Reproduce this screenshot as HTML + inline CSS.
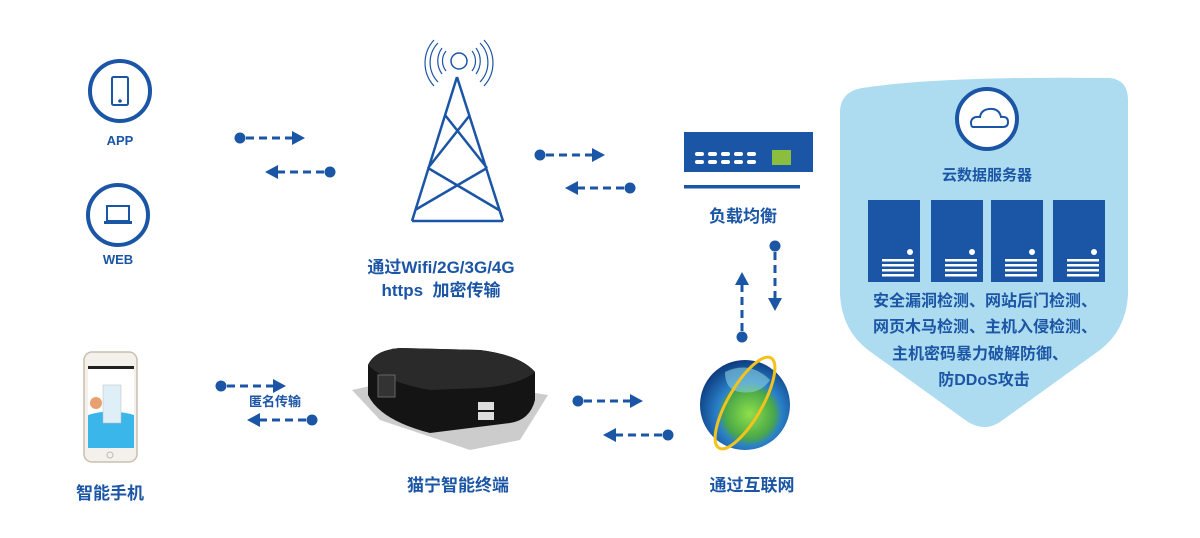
<!DOCTYPE html>
<html><head><meta charset="utf-8"><style>
html,body{margin:0;padding:0;background:#fff;}
svg{display:block}
text{font-family:"Liberation Sans","Noto Sans CJK SC",sans-serif;font-weight:bold;fill:#1b55a5;text-anchor:middle}
</style></head><body>
<svg width="1200" height="538" viewBox="0 0 1200 538" xmlns="http://www.w3.org/2000/svg">
<defs>
<g id="ar"><circle cx="0" cy="0" r="5.5" fill="#1b55a5"/><line x1="6" y1="0" x2="52" y2="0" stroke="#1b55a5" stroke-width="3" stroke-dasharray="8,5"/><polygon points="52,-7 65,0 52,7" fill="#1b55a5"/></g>
<radialGradient id="gl" cx="0.55" cy="0.6" r="0.6"><stop offset="0" stop-color="#8fe04a"/><stop offset="0.45" stop-color="#4aa848"/><stop offset="0.6" stop-color="#2a80c8"/><stop offset="1" stop-color="#0d3d80"/></radialGradient>
</defs>
<!-- APP / WEB -->
<circle cx="120" cy="91" r="30" fill="none" stroke="#1b55a5" stroke-width="4"/>
<rect x="112" y="77" width="16" height="28" rx="1.5" fill="none" stroke="#1b55a5" stroke-width="2"/>
<circle cx="120" cy="101" r="1.8" fill="#1b55a5"/>
<text x="120" y="145" font-size="13">APP</text>
<circle cx="118" cy="215" r="30" fill="none" stroke="#1b55a5" stroke-width="4"/>
<rect x="107" y="206" width="22" height="15" fill="none" stroke="#1b55a5" stroke-width="2"/>
<rect x="104" y="221" width="28" height="3" fill="#1b55a5"/>
<text x="118" y="264" font-size="13">WEB</text>
<use href="#ar" transform="translate(240,138)"/>
<use href="#ar" transform="translate(330,172) scale(-1,1)"/>
<!-- tower -->
<g fill="none" stroke="#1b55a5" stroke-width="2.5">
<circle cx="459" cy="61" r="8" stroke-width="1.5"/>
<path d="M457 77 L412 221 M457 77 L503 221 M412 221 L503 221 M445 115 L487 168 M470 115 L428 168 M428 168 L499 210 M487 168 L415 210" />
</g>
<g fill="none" stroke="#1b55a5" stroke-width="1.2">
<path d="M442 48 A22 22 0 0 0 442 74 M446 51 A16 16 0 0 0 446 71 M438 43 A28 28 0 0 0 438 82 M434 40 A34 34 0 0 0 434 86"/>
<path d="M476 48 A22 22 0 0 1 476 74 M472 51 A16 16 0 0 1 472 71 M480 43 A28 28 0 0 1 480 82 M484 40 A34 34 0 0 1 484 86"/>
</g>
<text x="441" y="273" font-size="17">通过Wifi/2G/3G/4G</text>
<text x="441" y="296" font-size="17">https&#160;&#160;加密传输</text>
<use href="#ar" transform="translate(540,155)"/>
<use href="#ar" transform="translate(630,188) scale(-1,1)"/>
<!-- load balancer -->
<rect x="684" y="132" width="129" height="40" fill="#1b55a5"/>
<rect x="684" y="185" width="116" height="3.5" fill="#1b55a5"/>
<rect x="772" y="150" width="19" height="15" fill="#8bbd3f"/>
<g fill="#fff">
<rect x="695" y="152" width="9" height="4" rx="2"/><rect x="708" y="152" width="9" height="4" rx="2"/><rect x="721" y="152" width="9" height="4" rx="2"/><rect x="734" y="152" width="9" height="4" rx="2"/><rect x="747" y="152" width="9" height="4" rx="2"/>
<rect x="695" y="160" width="9" height="4" rx="2"/><rect x="708" y="160" width="9" height="4" rx="2"/><rect x="721" y="160" width="9" height="4" rx="2"/><rect x="734" y="160" width="9" height="4" rx="2"/><rect x="747" y="160" width="9" height="4" rx="2"/>
</g>
<text x="743" y="222" font-size="17">负载均衡</text>
<use href="#ar" transform="translate(742,337) rotate(-90)"/>
<use href="#ar" transform="translate(775,246) rotate(90)"/>
<!-- globe -->
<circle cx="745" cy="405" r="45" fill="url(#gl)"/>
<path d="M725 372 Q750 360 770 380 Q760 395 740 392 Q725 390 725 372Z" fill="#8ad0e0" opacity="0.6"/>
<ellipse cx="745" cy="403" rx="17" ry="52" fill="none" stroke="#f3c21c" stroke-width="3" transform="rotate(30 745 403)"/>
<text x="752" y="491" font-size="17">通过互联网</text>
<!-- device -->
<polygon points="352,390 420,375 548,395 520,440 470,450 380,420" fill="#aaa" opacity="0.6"/>
<path d="M368 365 Q375 350 400 348 L480 350 Q520 355 535 372 L535 400 Q530 420 510 423 L430 433 Q380 420 368 395Z" fill="#141414"/>
<path d="M368 365 Q375 350 400 348 L480 350 Q520 355 535 372 Q520 385 480 388 L430 390 Q385 382 368 365Z" fill="#2a2a2a"/>
<rect x="378" y="375" width="17" height="22" fill="#333" stroke="#666"/>
<rect x="478" y="402" width="16" height="8" fill="#ddd"/><rect x="478" y="412" width="16" height="8" fill="#ddd"/>
<text x="458" y="491" font-size="17">猫宁智能终端</text>
<use href="#ar" transform="translate(578,401)"/>
<use href="#ar" transform="translate(668,435) scale(-1,1)"/>
<!-- phone -->
<rect x="84" y="352" width="53" height="110" rx="8" fill="#f4f1ec" stroke="#c8bfae" stroke-width="1.5"/>
<rect x="88" y="366" width="46" height="82" fill="#fff"/>
<rect x="88" y="366" width="46" height="3" fill="#222"/>
<path d="M88 415 Q110 408 134 415 L134 448 L88 448Z" fill="#3bb6ea"/>
<rect x="103" y="385" width="18" height="38" fill="#dfeff8" stroke="#bbb" stroke-width="0.5"/>
<circle cx="96" cy="403" r="6" fill="#e8a070"/>
<circle cx="110" cy="455" r="3" fill="none" stroke="#bbb"/>
<text x="110" y="499" font-size="17">智能手机</text>
<use href="#ar" transform="translate(221,386)"/>
<text x="275" y="406" font-size="13">匿名传输</text>
<use href="#ar" transform="translate(312,420) scale(-1,1)"/>
<!-- shield -->
<path d="M840 112 Q840 92 862 88 Q940 76 1110 78 Q1128 80 1128 100 L1128 295 Q1126 330 1100 350 L1000 422 Q985 432 968 422 L868 350 Q842 330 840 295Z" fill="#addcf0"/>
<circle cx="987" cy="119" r="30" fill="#fff" stroke="#1b55a5" stroke-width="4"/>
<path d="M973 127 L1003 127 Q1008 127 1008 122 Q1008 116 1001 117 Q999 108 989 109 Q981 110 980 117 Q972 116 971 122 Q971 127 973 127Z" fill="none" stroke="#1b55a5" stroke-width="2"/>
<text x="987" y="180" font-size="15">云数据服务器</text>
<g fill="#1b55a5">
<rect x="868" y="200" width="52" height="82"/><rect x="931" y="200" width="52" height="82"/><rect x="991" y="200" width="52" height="82"/><rect x="1053" y="200" width="52" height="82"/>
</g>
<g fill="#fff">
<circle cx="910" cy="252" r="3"/><circle cx="972" cy="252" r="3"/><circle cx="1032" cy="252" r="3"/><circle cx="1094" cy="252" r="3"/>
<rect x="882" y="259" width="32" height="2.5"/><rect x="882" y="264" width="32" height="2.5"/><rect x="882" y="269" width="32" height="2.5"/><rect x="882" y="274" width="32" height="2.5"/>
<rect x="945" y="259" width="32" height="2.5"/><rect x="945" y="264" width="32" height="2.5"/><rect x="945" y="269" width="32" height="2.5"/><rect x="945" y="274" width="32" height="2.5"/>
<rect x="1005" y="259" width="32" height="2.5"/><rect x="1005" y="264" width="32" height="2.5"/><rect x="1005" y="269" width="32" height="2.5"/><rect x="1005" y="274" width="32" height="2.5"/>
<rect x="1067" y="259" width="32" height="2.5"/><rect x="1067" y="264" width="32" height="2.5"/><rect x="1067" y="269" width="32" height="2.5"/><rect x="1067" y="274" width="32" height="2.5"/>
</g>
<text x="985" y="306" font-size="16">安全漏洞检测、网站后门检测、</text>
<text x="985" y="332" font-size="16">网页木马检测、主机入侵检测、</text>
<text x="980" y="359" font-size="16">主机密码暴力破解防御、</text>
<text x="984" y="385" font-size="16">防DDoS攻击</text>
</svg>
</body></html>
